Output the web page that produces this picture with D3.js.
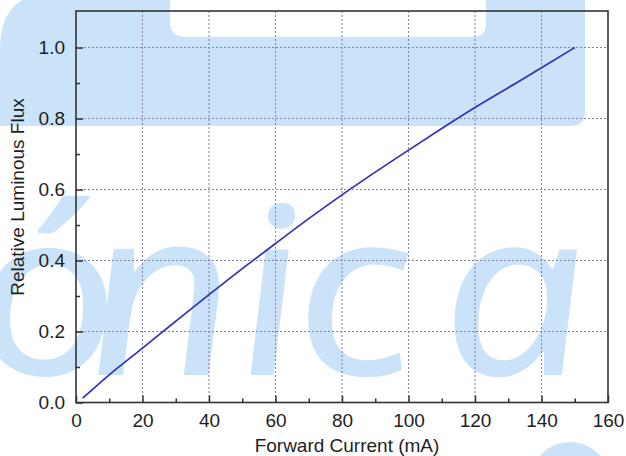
<!DOCTYPE html>
<html>
<head>
<meta charset="utf-8">
<script src="https://cdn.jsdelivr.net/npm/d3@7"></script>
<style>
  html, body { margin: 0; padding: 0; background: #ffffff; }
  svg { display: block; }
</style>
</head>
<body>
<svg id="chart" width="626" height="456"></svg>
<script>
// Relative luminous flux vs. forward current
const currentMA = [2, 10, 20, 30, 40, 50, 60, 70, 80, 90, 100, 110, 120, 130, 140, 150];
const relFlux   = [0.012, 0.078, 0.153, 0.229, 0.304, 0.377, 0.448, 0.518, 0.585, 0.649, 0.711, 0.772, 0.831, 0.887, 0.943, 1.0];

const xTicks = [0, 20, 40, 60, 80, 100, 120, 140, 160];
const xMinor = [10, 30, 50, 70, 90, 110, 130, 150];
const yTicks = [0.0, 0.2, 0.4, 0.6, 0.8, 1.0];
const yMinor = [0.1, 0.3, 0.5, 0.7, 0.9];

const xTitle = "Forward Current (mA)";
const yTitle = "Relative Luminous Flux";
const markText = ["ó", "n", "i", "c", "a"];

const svg = d3.select("#chart");
const plot = { left: 76, right: 608, top: 11, bottom: 402.5 };

const x = d3.scaleLinear().domain([0, 160]).range([plot.left, plot.right]);
const y = d3.scaleLinear().domain([0, 1.103]).range([plot.bottom, plot.top]);

// ---- light blue background mark ----
const markFill = "#cbe3f8";
const wm = svg.append("g").attr("fill", markFill);
wm.append("path")
  .attr("d", [
    "M0,50", "Q0,0 40,-6", "L170,-6", "L170,22", "Q170,37 186,37",
    "L472,37", "Q486,37 486,24", "L486,-6", "L585,-6", "L585,112",
    "Q585,126 571,126", "L0,126", "Z"
  ].join(" "));
const sx = 1.12;
const letterX = [54, 168, 277, 361, 522];
wm.append("text")
  .attr("font-family", "'Noto Sans', 'Open Sans', sans-serif")
  .attr("font-style", "italic")
  .attr("font-size", 234)
  .attr("text-anchor", "middle")
  .attr("transform", `translate(0,375) scale(${sx},1) skewX(6)`)
  .selectAll("tspan")
  .data(markText)
  .join("tspan")
  .attr("x", (d, i) => letterX[i] / sx)
  .attr("y", 0)
  .text(d => d);
wm.append("circle")
  .attr("cx", 570).attr("cy", 482).attr("r", 33)
  .attr("fill", "none").attr("stroke", markFill).attr("stroke-width", 14);

// ---- grid ----
const grid = svg.append("g")
  .attr("stroke", "#8585a8")
  .attr("stroke-width", 1.1)
  .attr("stroke-dasharray", "2,2");
grid.selectAll("line.v")
  .data(xTicks.filter(d => d > 0 && d < 160))
  .join("line")
  .attr("class", "v")
  .attr("x1", d => x(d)).attr("x2", d => x(d))
  .attr("y1", plot.top).attr("y2", plot.bottom);
grid.selectAll("line.h")
  .data(yTicks.filter(d => d > 0))
  .join("line")
  .attr("class", "h")
  .attr("x1", plot.left).attr("x2", plot.right)
  .attr("y1", d => y(d)).attr("y2", d => y(d));

// ---- curve ----
const line = d3.line()
  .x((d, i) => x(currentMA[i]))
  .y(d => y(d))
  .curve(d3.curveMonotoneX);
svg.append("path")
  .datum(relFlux)
  .attr("d", line)
  .attr("fill", "none")
  .attr("stroke", "#2f2fc4")
  .attr("stroke-width", 1.7);

// ---- axes ----
const font = "'Liberation Sans', Arial, sans-serif";
const axisColor = "#333333";

function styleAxis(g) {
  g.select(".domain").remove();
  g.selectAll(".tick line").attr("stroke", axisColor).attr("stroke-width", 1.5);
  g.selectAll(".tick text")
    .attr("fill", "#1e1e1e")
    .attr("font-family", font)
    .attr("font-size", 19);
}

svg.append("g")
  .attr("transform", `translate(0,${plot.bottom})`)
  .call(d3.axisBottom(x).tickValues(xTicks).tickSize(-7).tickPadding(11).tickFormat(d3.format("d")))
  .call(styleAxis);
svg.append("g")
  .attr("transform", `translate(0,${plot.bottom})`)
  .call(d3.axisBottom(x).tickValues(xMinor).tickSize(-4).tickFormat(""))
  .call(styleAxis);

svg.append("g")
  .attr("transform", `translate(${plot.left},0)`)
  .call(d3.axisLeft(y).tickValues(yTicks).tickSize(-7).tickPadding(11).tickFormat(d3.format(".1f")))
  .call(styleAxis);
svg.append("g")
  .attr("transform", `translate(${plot.left},0)`)
  .call(d3.axisLeft(y).tickValues(yMinor).tickSize(-4).tickFormat(""))
  .call(styleAxis);

// frame
svg.append("rect")
  .attr("x", plot.left).attr("y", plot.top)
  .attr("width", plot.right - plot.left).attr("height", plot.bottom - plot.top)
  .attr("fill", "none").attr("stroke", axisColor).attr("stroke-width", 1.6);

// titles
svg.append("text")
  .attr("x", (plot.left + plot.right) / 2 + 5).attr("y", 452)
  .attr("text-anchor", "middle")
  .attr("font-family", font).attr("font-size", 19).attr("fill", "#1e1e1e")
  .text(xTitle);
svg.append("text")
  .attr("transform", "translate(24,197) rotate(-90)")
  .attr("text-anchor", "middle")
  .attr("font-family", font).attr("font-size", 19).attr("fill", "#1e1e1e")
  .text(yTitle);
</script>
</body>
</html>
